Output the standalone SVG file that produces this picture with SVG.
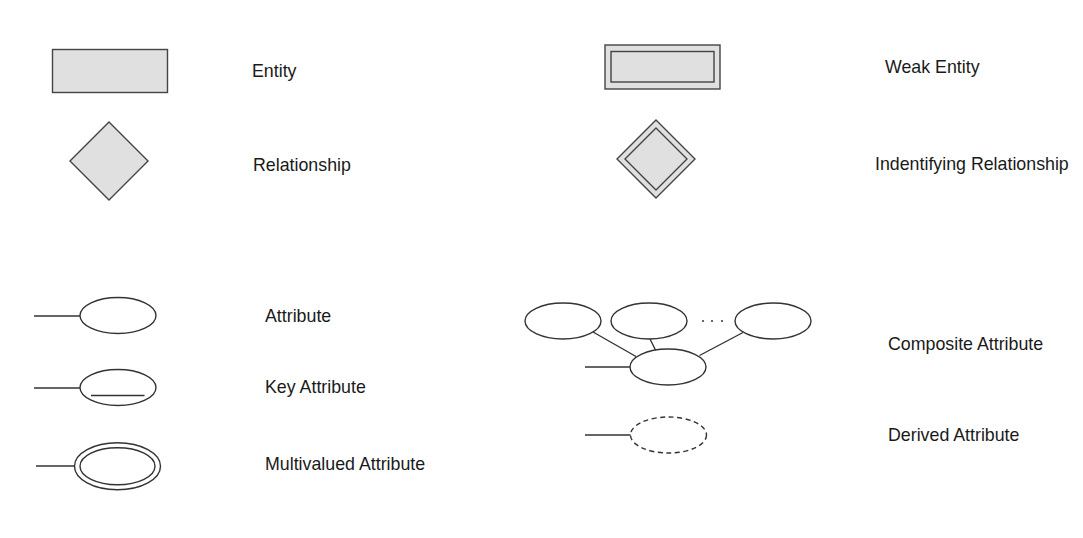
<svg xmlns="http://www.w3.org/2000/svg" width="1083" height="538" viewBox="0 0 1083 538">
<style>
.shape{fill:#e0e0e0;stroke:#444;stroke-width:1.4}
.attr{fill:#fff;stroke:#333;stroke-width:1.4}
.ln{stroke:#333;stroke-width:1.4;fill:none}
.dash{fill:#fff;stroke:#333;stroke-width:1.4;stroke-dasharray:5 3.5}
.lbl{font-family:"Liberation Sans",Arial,sans-serif;font-size:17.8px;fill:#1a1a1a}
</style>
<rect width="1083" height="538" fill="#fff"/>
<g id="entity">
<rect class="shape" x="52.5" y="49.5" width="115" height="43"/>
<text class="lbl" x="252" y="77">Entity</text>
</g>
<g id="relationship">
<polygon class="shape" points="109,122 148,161 109,200 70,161"/>
<text class="lbl" x="253" y="171">Relationship</text>
</g>
<g id="weak-entity">
<rect class="shape" x="605" y="45" width="115" height="44"/>
<rect class="shape" x="611" y="51.5" width="103" height="30.5"/>
<text class="lbl" x="885" y="73">Weak Entity</text>
</g>
<g id="identifying-relationship">
<polygon class="shape" points="656,120 695,159 656,198 617,159"/>
<polygon class="shape" points="656,128 687,159 656,190 625,159"/>
<text class="lbl" x="875" y="170">Indentifying Relationship</text>
</g>
<g id="attribute">
<ellipse class="attr" cx="118" cy="315.5" rx="38" ry="18"/>
<text class="lbl" x="265" y="322">Attribute</text>
</g>
<g id="key-attribute">
<ellipse class="attr" cx="118" cy="387.5" rx="38" ry="18"/>
<line class="ln" x1="91" y1="395.5" x2="144.5" y2="395.5"/>
<text class="lbl" x="265" y="393">Key Attribute</text>
</g>
<g id="multivalued-attribute">
<ellipse class="attr" cx="117.5" cy="466.3" rx="43" ry="23.5"/>
<ellipse class="attr" cx="117.5" cy="466.3" rx="37.5" ry="18.5"/>
<text class="lbl" x="265" y="470">Multivalued Attribute</text>
</g>
<g id="composite-attribute">
<ellipse class="attr" cx="563" cy="321" rx="38" ry="18"/>
<ellipse class="attr" cx="649" cy="321" rx="38" ry="18"/>
<ellipse class="attr" cx="773" cy="321" rx="38" ry="18"/>
<ellipse class="attr" cx="668" cy="367" rx="38" ry="18"/>
<circle cx="703" cy="321" r="1" fill="#333"/>
<circle cx="712" cy="321" r="1" fill="#333"/>
<circle cx="722" cy="321" r="1" fill="#333"/>
<text class="lbl" x="888" y="349.5">Composite Attribute</text>
</g>
<g id="derived-attribute">
<ellipse class="dash" cx="668.5" cy="435" rx="38" ry="18"/>
<text class="lbl" x="888" y="441">Derived Attribute</text>
</g>
<g id="connectors">
<line class="ln" x1="34" y1="316" x2="80" y2="316"/>
<line class="ln" x1="34" y1="388" x2="80" y2="388"/>
<line class="ln" x1="36" y1="466" x2="74.5" y2="466"/>
<line class="ln" x1="593" y1="332" x2="636" y2="356.5"/>
<line class="ln" x1="650" y1="339" x2="655.5" y2="350"/>
<line class="ln" x1="743" y1="332.5" x2="699.5" y2="355.5"/>
<line class="ln" x1="585" y1="367" x2="630" y2="367"/>
<line class="ln" x1="585" y1="435" x2="630.5" y2="435"/>
</g>
</svg>
